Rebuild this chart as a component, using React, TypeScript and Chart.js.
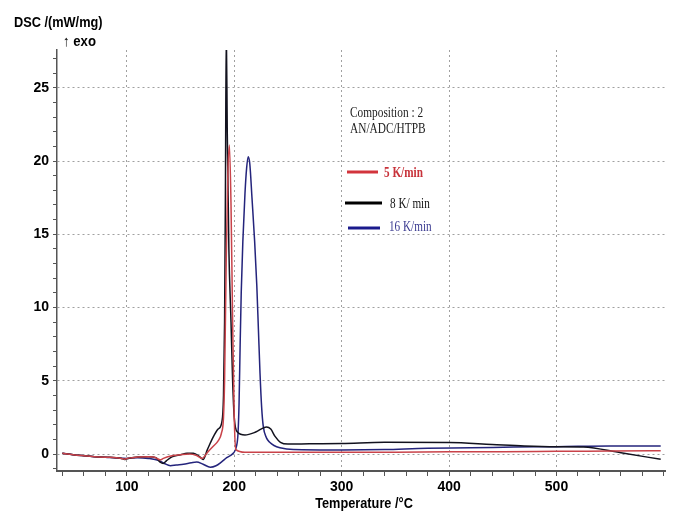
import React, { useEffect, useRef } from "react";
import { Chart, registerables } from "chart.js";

Chart.register(...registerables);

// ---- data ----
const redT = [40, 45, 50, 60, 70, 80, 90, 95, 98, 100, 105, 110, 120, 125, 128, 131, 134, 140, 150, 158, 165, 170, 175, 180, 185, 188, 190, 191, 192.5, 194, 195.5, 197, 198.5, 200, 201.5, 210, 250, 300, 350, 400, 450, 500, 550, 597];
const redY = [0.05, 0, -0.05, -0.12, -0.18, -0.22, -0.25, -0.3, -0.35, -0.3, -0.25, -0.2, -0.18, -0.2, -0.3, -0.4, -0.3, -0.15, -0.05, 0, -0.1, -0.3, 0.1, 0.5, 0.9, 1.4, 2.5, 5, 13, 19, 21.1, 17, 9, 2.5, 0.3, 0.12, 0.12, 0.12, 0.12, 0.15, 0.15, 0.18, 0.2, 0.22];

const blackT = [40, 50, 60, 70, 80, 90, 95, 98, 100, 110, 120, 127, 131, 134, 137, 142, 150, 156, 162, 168, 171, 175, 180, 185, 188.5, 190, 191, 191.8, 192.6, 193.5, 195, 197, 198.5, 200, 203, 210, 220, 230, 234, 238, 243, 250, 270, 300, 340, 400, 440, 470, 500, 525, 560, 597];
const blackY = [0.05, -0.05, -0.12, -0.18, -0.22, -0.25, -0.3, -0.38, -0.32, -0.2, -0.18, -0.25, -0.55, -0.64, -0.45, -0.2, -0.05, 0.05, 0.05, -0.2, -0.37, 0.3, 1.1, 1.7, 2.2, 4, 9, 18, 29, 22, 14, 9, 5, 2.5, 1.5, 1.3, 1.5, 1.85, 1.7, 1.2, 0.8, 0.68, 0.7, 0.72, 0.8, 0.78, 0.65, 0.55, 0.5, 0.48, 0.08, -0.36];

const blueT = [40, 50, 60, 70, 80, 90, 100, 110, 120, 130, 135, 140.6, 146, 152.7, 160, 165, 171, 177.7, 183, 188, 193, 199, 202, 203.5, 204.5, 205.5, 206.5, 208, 210, 211.5, 213, 214.5, 216.5, 219, 221, 222.5, 224, 225.5, 227, 230, 233, 237, 242.5, 255, 300, 340, 380, 420, 460, 500, 550, 597];
const blueY = [0.05, -0.05, -0.12, -0.18, -0.22, -0.27, -0.3, -0.25, -0.3, -0.45, -0.65, -0.8, -0.75, -0.7, -0.6, -0.55, -0.7, -0.9, -0.8, -0.55, -0.25, 0.05, 0.5, 1.4, 3.5, 7.5, 11, 14.5, 17.8, 19.5, 20.3, 19.8, 17.5, 14.5, 11.5, 8.5, 5.5, 3.2, 1.9, 1.1, 0.8, 0.58, 0.43, 0.3, 0.27, 0.3, 0.4, 0.42, 0.48, 0.5, 0.55, 0.55];

const seriesNames = ["5 K/min", "8 K/ min", "16 K/min"];
const xTickValues = [40, 60, 80, 100, 120, 140, 160, 180, 200, 220, 240, 260, 280, 300, 320, 340, 360, 380, 400, 420, 440, 460, 480, 500, 520, 540, 560, 580, 600];
const yTickValues = [-1, 0, 1, 2, 3, 4, 5, 6, 7, 8, 9, 10, 11, 12, 13, 14, 15, 16, 17, 18, 19, 20, 21, 22, 23, 24, 25, 26, 27];
const compositionLines = ["Composition : 2", "AN/ADC/HTPB"];

const RED = "#c9434a";
const BLACK = "#12121e";
const BLUE = "#24247c";
const LEGEND_COLORS = ["#d2343c", "#000000", "#1a1a8c"];
const LEGEND_TEXT_COLORS = ["#c8323a", "#111111", "#3a3a90"];

const SANS = "'Liberation Sans', Arial, sans-serif";
const SERIF = "'Liberation Serif', 'Times New Roman', serif";

const toPts = (t: number[], y: number[]) => t.map((v, i) => ({ x: v, y: y[i] }));

function squeezedText(ctx: any, text: string, x: number, y: number, sx: number) {
  ctx.save();
  ctx.translate(x, y);
  ctx.scale(sx, 1);
  ctx.fillText(text, 0, 0);
  ctx.restore();
}

const annotations = {
  id: "annotations",
  afterDraw(chart: any) {
    const { ctx } = chart;
    ctx.save();
    ctx.fillStyle = "#000";
    ctx.textBaseline = "alphabetic";
    ctx.textAlign = "left";
    ctx.font = `bold 15px ${SANS}`;
    squeezedText(ctx, "DSC /(mW/mg)", 14, 27, 0.85);
    squeezedText(ctx, "\u2191 exo", 63, 46, 0.88);
    ctx.textAlign = "center";
    squeezedText(ctx, "Temperature /\u00B0C", 364, 508, 0.85);

    ctx.textAlign = "left";
    ctx.font = `14px ${SERIF}`;
    ctx.fillStyle = "#222";
    squeezedText(ctx, compositionLines[0], 350, 117, 0.81);
    squeezedText(ctx, compositionLines[1], 350, 133, 0.81);

    const rows = [
      { y: 172, x0: 347, x1: 378, tx: 384, ty: 177, bold: true },
      { y: 203, x0: 345, x1: 382, tx: 390, ty: 208, bold: false },
      { y: 228, x0: 348, x1: 380, tx: 389, ty: 231, bold: false },
    ];
    rows.forEach((r, i) => {
      ctx.strokeStyle = LEGEND_COLORS[i];
      ctx.lineWidth = 3;
      ctx.beginPath();
      ctx.moveTo(r.x0, r.y);
      ctx.lineTo(r.x1, r.y);
      ctx.stroke();
      ctx.fillStyle = LEGEND_TEXT_COLORS[i];
      ctx.font = `${r.bold ? "bold " : ""}14px ${SERIF}`;
      squeezedText(ctx, seriesNames[i], r.tx, r.ty, 0.8);
    });
    ctx.restore();
  },
};

export default function App() {
  const ref = useRef<HTMLCanvasElement | null>(null);
  useEffect(() => {
    if (!ref.current) return;
    const chart = new Chart(ref.current, {
      type: "line",
      data: {
        datasets: [
          { label: seriesNames[0], data: toPts(redT, redY), borderColor: RED, borderWidth: 1.5, pointRadius: 0, cubicInterpolationMode: "monotone", fill: false },
          { label: seriesNames[1], data: toPts(blackT, blackY), borderColor: BLACK, borderWidth: 1.5, pointRadius: 0, cubicInterpolationMode: "monotone", fill: false },
          { label: seriesNames[2], data: toPts(blueT, blueY), borderColor: BLUE, borderWidth: 1.5, pointRadius: 0, cubicInterpolationMode: "monotone", fill: false },
        ],
      },
      options: {
        responsive: false,
        animation: false,
        layout: { padding: { left: 0, right: 8, top: 50, bottom: 0 } },
        plugins: { legend: { display: false }, tooltip: { enabled: false }, title: { display: false } },
        scales: {
          x: {
            type: "linear",
            min: 35,
            max: 601,
            afterBuildTicks: (s: any) => { s.ticks = xTickValues.map((v) => ({ value: v })); },
            afterFit: (s: any) => { s.height = 40; },
            ticks: {
              autoSkip: false,
              maxRotation: 0,
              padding: 3,
              color: "#000",
              font: { family: SANS, size: 14, weight: "bold" },
              callback: (v: any) => (Number(v) % 100 === 0 && Number(v) < 600 ? String(v) : ""),
            },
            grid: {
              color: (c: any) => (c.tick && c.tick.value % 100 === 0 && c.tick.value < 600 ? "#a0a0a0" : "rgba(0,0,0,0)"),
              lineWidth: 1,
              tickColor: "#555",
              tickLength: 5,
              tickWidth: 1,
              tickBorderDash: [],
            },
            border: { display: true, color: "#555", width: 2, dash: [2, 3] },
          },
          y: {
            type: "linear",
            min: -1.16,
            max: 27.58,
            afterBuildTicks: (s: any) => { s.ticks = yTickValues.map((v) => ({ value: v })); },
            afterFit: (s: any) => { s.width = 57; },
            ticks: {
              autoSkip: false,
              padding: 4,
              color: "#000",
              font: { family: SANS, size: 14, weight: "bold" },
              callback: (v: any) => (Number(v) % 5 === 0 && Number(v) >= 0 ? String(v) : ""),
            },
            grid: {
              color: (c: any) => (c.tick && c.tick.value % 5 === 0 && c.tick.value >= 0 ? "#a0a0a0" : "rgba(0,0,0,0)"),
              lineWidth: 1,
              tickColor: "#555",
              tickLength: 4,
              tickWidth: 1,
              tickBorderDash: [],
            },
            border: { display: true, color: "#555", width: 1.5, dash: [2, 3] },
          },
        },
      },
      plugins: [annotations],
    } as any);
    return () => chart.destroy();
  }, []);
  return (
    <div style={{ position: "absolute", left: 0, top: 0, width: 673, height: 511, background: "#fff" }}>
      <canvas ref={ref} width={673} height={511} style={{ display: "block" }} />
    </div>
  );
}
